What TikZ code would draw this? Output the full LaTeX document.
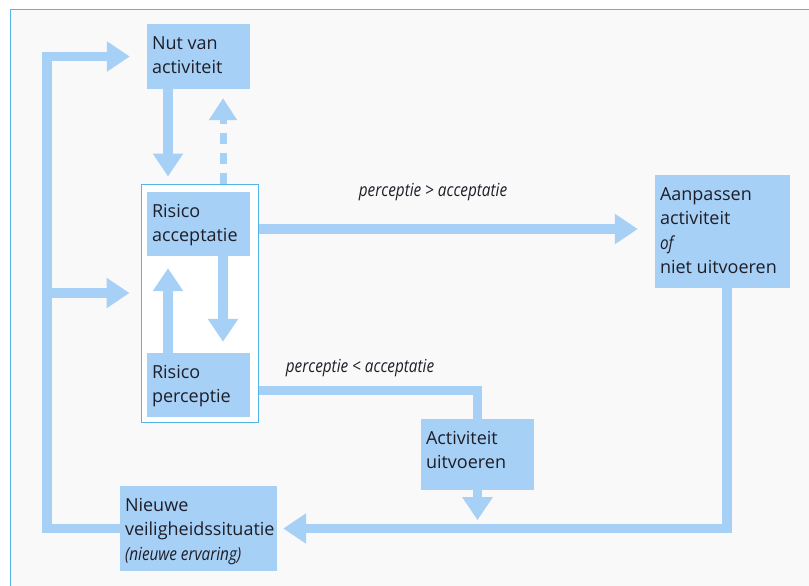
\documentclass[tikz,border=0pt]{standalone}
\usepackage{fontspec}
\setmainfont{Open Sans}
\newfontfamily\condit[FakeStretch=0.85]{Open Sans Italic}
\usetikzlibrary{arrows.meta,calc}
\definecolor{boxblue}{HTML}{A7D0F6}
\definecolor{framecyan}{HTML}{55B4E6}
\definecolor{bgray}{HTML}{F9F9F9}
\definecolor{ink}{HTML}{1E1E28}
\newcommand{\bxt}[3]{\parbox[c][#2][t]{#1}{\raggedright\leftskip=5pt\fontsize{18}{24.5}\selectfont\vspace*{8pt}\strut #3}}
\begin{document}
\begin{tikzpicture}[x=1pt,y=-1pt,
  box/.style={fill=boxblue, inner sep=0pt, text=ink},
  conn/.style={draw=boxblue, line width=9.5pt, -{Triangle[width=29pt,length=23pt]}},
  dconn/.style={draw=boxblue, line width=7pt, dash pattern=on 11pt off 9pt, -{Triangle[width=27pt,length=22pt]}},
  plain/.style={draw=boxblue, line width=9pt},
  lbl/.style={font=\fontsize{18}{20}\condit, text=ink, inner sep=0pt}]
\useasboundingbox (0,0) rectangle (809,586);
\fill[white] (0,0) rectangle (809,586);
\fill[bgray] (10,10) rectangle (809,586);
\draw[framecyan, line width=1pt] (10,586) -- (10,10) -- (809,10);

\node[draw=framecyan, fill=white, line width=1pt, minimum width=117pt, minimum height=238pt, inner sep=0pt] (rframe) at (199.5,303) {};
\node[box] (nut) at (198.5,56.5) {\bxt{103pt}{65pt}{Nut van\\activiteit}};
\node[box] (acc) at (198.5,224) {\bxt{103pt}{64pt}{Risico\\acceptatie}};
\node[box] (per) at (198.5,385) {\bxt{103pt}{64pt}{Risico\\perceptie}};
\node[box] (aan) at (722.5,231.5) {\bxt{135pt}{113pt}{Aanpassen\\activiteit\\{\condit of}\\niet uitvoeren}};
\node[box] (act) at (477.5,454.5) {\bxt{113pt}{71pt}{Activiteit\\uitvoeren}};
\node[box] (nw) at (198.5,528.5) {\bxt{157pt}{85pt}{Nieuwe\\veiligheidssituatie\\{\condit (nieuwe ervaring)}}};

\node[lbl] (l1) at (433,192) {perceptie > acceptatie};
\node[lbl] (l2) at (360,368) {perceptie < acceptatie};

\draw[conn] ($(nut.south)+(-30.5,0)$) -- ($(rframe.north)+(-31.5,-7)$);
\draw[dconn] ($(rframe.north)+(23.5,0)$) -- ($(nut.south)+(24.5,9)$);
\draw[conn] ($(per.north)+(-30.5,0)$) -- ($(acc.south)+(-30.5,12)$);
\draw[conn] ($(acc.south)+(24.5,0)$) -- ($(per.north)+(24.5,-11)$);
\coordinate (s1) at ($(rframe.east)+(0,-74)$);
\draw[conn] (s1) -- ($(s1 -| aan.west)+(-17,0)$);
\draw[plain] ($(rframe.east)+(0,87)$) -| (act.north);
\draw[conn] (act.south) -- ++(0,30);
\draw[conn] ($(aan.south)+(4.5,0)$) |- ($(nw.east)+(6,0)$);
\draw[conn] (nw.west) -| ($(nut.west)+(-100,0)$) -- ($(nut.west)+(-17,0)$);
\draw[conn] ($(rframe.west)+(-94,-10)$) -- ($(rframe.west)+(-11,-10)$);
\end{tikzpicture}
\end{document}
